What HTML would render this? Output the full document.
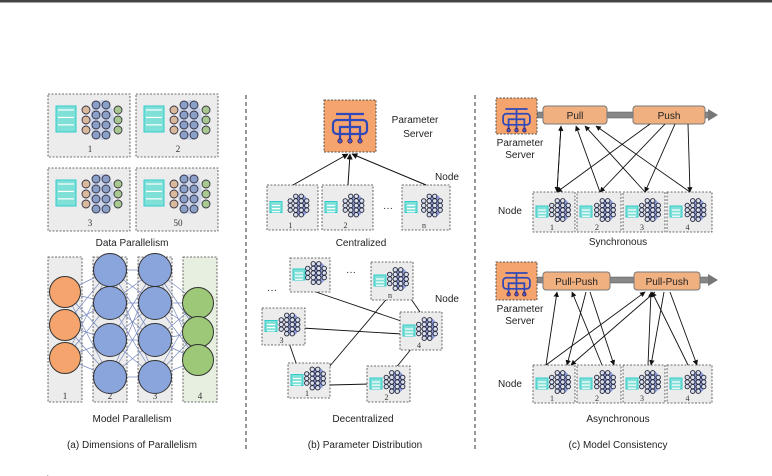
<!DOCTYPE html>
<html><head><meta charset="utf-8"><style>
html,body{margin:0;padding:0;background:#fff;}
svg{display:block;font-family:"Liberation Sans",sans-serif;}
</style></head><body>
<svg id="s" width="772" height="476" viewBox="0 0 772 476" xmlns="http://www.w3.org/2000/svg">
<defs>
<marker id="ar" viewBox="0 0 10 10" refX="9" refY="5" markerWidth="6" markerHeight="6" orient="auto"><path d="M0,0L10,5L0,10z" fill="#111"/></marker>
</defs>
<rect x="0" y="0" width="772" height="2.5" fill="#444"/>
<line x1="246" y1="95" x2="246" y2="450" stroke="#333" stroke-dasharray="4,3"/>
<line x1="475" y1="95" x2="475" y2="450" stroke="#333" stroke-dasharray="4,3"/>
<g id="g"></g>
<g font-size="10" fill="#222" text-anchor="middle">
<text x="132" y="246">Data Parallelism</text>
<text x="132" y="422">Model Parallelism</text>
<text x="132" y="448">(a) Dimensions of Parallelism</text>
<text x="415" y="123">Parameter</text><text x="418" y="137">Server</text>
<text x="447" y="180">Node</text>
<text x="388" y="211">···</text>
<text x="361" y="246">Centralized</text>
<text x="447" y="302">Node</text>
<text x="351" y="275">···</text>
<text x="272" y="293">···</text>
<text x="363" y="422">Decentralized</text>
<text x="365" y="448">(b) Parameter Distribution</text>
<text x="520" y="146">Parameter</text><text x="520" y="158">Server</text>
<text x="510" y="214">Node</text>
<text x="618" y="245">Synchronous</text>
<text x="520" y="312">Parameter</text><text x="520" y="324">Server</text>
<text x="510" y="387">Node</text>
<text x="618" y="422">Asynchronous</text>
<text x="618" y="448">(c) Model Consistency</text>
<text x="20" y="483" text-anchor="start">Overview</text>
</g>
</svg>
<script>
var g=document.getElementById('g'),h='';
function R(x,y,w,hh,f,dash){h+='<rect x="'+x+'" y="'+y+'" width="'+w+'" height="'+hh+'" fill="'+(f||'#ececec')+'" stroke="#444" stroke-width="0.8" '+(dash===false?'':'stroke-dasharray="2,1.5"')+'/>';}
function C(x,y,r,f,s,sw){h+='<circle cx="'+x+'" cy="'+y+'" r="'+r+'" fill="'+f+'" stroke="'+(s||'#333')+'" stroke-width="'+(sw||1)+'"/>';}
function L(a,b,c,d,s,w,m){h+='<line x1="'+a+'" y1="'+b+'" x2="'+c+'" y2="'+d+'" stroke="'+(s||'#111')+'" stroke-width="'+(w||0.9)+'" '+(m?'marker-end="url(#ar)"':'')+'/>';}
function T(x,y,t,fs){h+='<text x="'+x+'" y="'+y+'" font-size="'+(fs||9)+'" text-anchor="middle" fill="#333" font-family="Liberation Serif,serif">'+t+'</text>';}
function doc(x,y,w,hh){h+='<rect x="'+x+'" y="'+y+'" width="'+w+'" height="'+hh+'" fill="#7fe0d8" stroke="#3cc" stroke-width="1"/>';for(var i=0;i<3;i++)L(x+2,y+4+i*hh/3.5,x+w-2,y+4+i*hh/3.5,'#fff',1.2);}
function dp(x,y,lab){R(x,y,82,63);doc(x+8,y+12,20,26);
var cols=[[x+38,[16,26,36]],[x+48,[11,21,31,41]],[x+58,[11,21,31,41]],[x+70,[16,26,36]]];
var fc=['#d9b89c','#8aa0c8','#8aa0c8','#a8c890'];
h+='<ellipse cx="'+(x+54)+'" cy="'+(y+26)+'" rx="12" ry="20" fill="#b8c4e8" opacity="0.6"/>';
for(var c=0;c<4;c++)for(var i=0;i<cols[c][1].length;i++)C(cols[c][0],y+cols[c][1][i],4,fc[c],'#334',0.9);
T(x+42,y+58,lab);}
dp(48,94,'1');dp(136,94,'2');dp(48,168,'3');dp(136,168,'50');
[[48,'1'],[93,'2'],[138,'3'],[183,'4']].forEach(function(c){R(c[0],257,34,145,c[0]==183?'#e6efe0':'#ececec');T(c[0]+17,399,c[1]);});
var O=[292,325,358],B=[270,303,340,377],G=[303,332,360];
O.forEach(function(a){B.forEach(function(b){L(65,a,110,b,'#7a8cc0',0.7);});});
B.forEach(function(a){B.forEach(function(b){L(110,a,155,b,'#7a8cc0',0.7);});});
B.forEach(function(a){G.forEach(function(b){L(155,a,198,b,'#7a8cc0',0.7);});});
O.forEach(function(y){C(65,y,15.5,'#f4a46c','#333',1);});
B.forEach(function(y){C(110,y,16.5,'#8aa4dc','#333',1);});
B.forEach(function(y){C(155,y,16.5,'#8aa4dc','#333',1);});
G.forEach(function(y){C(198,y,15.5,'#9cc878','#333',1);});
function sn(x,y,w,hh,lab){R(x,y,w,hh);doc(x+3,y+hh/2-6,12,11);
var cx=x+w/2+6,cy=y+hh/2-2;
h+='<ellipse cx="'+(cx+3)+'" cy="'+cy+'" rx="7" ry="11" fill="#6a80d8" opacity="0.7"/>';
for(var i=-2;i<=2;i++)for(var j=-1.5;j<=1.5;j++){if(Math.abs(i)==2&&Math.abs(j)==1.5)continue;C(cx+j*5.5,cy+i*4.6,2.2,'#d8e0f0','#223',0.9);}
T(x+w/2-2,y+hh-2,lab,8);}
function ps(x,y,w,hh){h+='<rect x="'+x+'" y="'+y+'" width="'+w+'" height="'+hh+'" fill="#f4a46c" stroke="#555" stroke-dasharray="2,1.5"/>';
var cx=x+w/2,s=w/52;
h+='<g fill="none" stroke="#3048b8" stroke-width="'+(2.2*s)+'">'+
'<line x1="'+(cx-14*s)+'" y1="'+(y+14*s)+'" x2="'+(cx+14*s)+'" y2="'+(y+14*s)+'"/>'+
'<rect x="'+(cx-17*s)+'" y="'+(y+20*s)+'" width="'+(34*s)+'" height="'+(14*s)+'" rx="'+(4*s)+'"/>'+
'<line x1="'+cx+'" y1="'+(y+14*s)+'" x2="'+cx+'" y2="'+(y+40*s)+'"/>'+
'<path d="M'+(cx-10*s)+','+(y+40*s)+'V'+(y+27*s)+'H'+(cx+10*s)+'V'+(y+40*s)+'"/></g>';
[-10,0,10].forEach(function(d){C(cx+d*s,y+41*s,2.2*s,'#5060c0','#304',0.6);});}
ps(324,100,52,52);
sn(267,185,51,45,'1');sn(322,185,51,45,'2');sn(402,185,48,45,'n');
L(293,185,348,154,'#111',1,1);L(348,185,350,154,'#111',1,1);L(426,185,352,154,'#111',1,1);
var D=[[290,258,40,34,''],[371,262,42,38,'n'],[262,308,43,37,'3'],[400,312,42,38,'4'],[288,363,42,35,'1'],[367,366,43,36,'2']];
L(310,290,404,322);L(390,295,324,373);L(302,328,402,334);L(288,340,302,380);L(330,385,370,384);L(412,348,390,375);L(409,296,420,312);
D.forEach(function(d){sn(d[0],d[1],d[2],d[3],d[4]);});
function bar(y){h+='<rect x="537" y="'+(y-3)+'" width="172" height="6" fill="#888" stroke="#555" stroke-width="0.5"/><path d="M708,'+(y-6)+'L718,'+y+'L708,'+(y+6)+'z" fill="#777"/>';}
function pb(x,y,w,t){h+='<rect x="'+x+'" y="'+y+'" width="'+w+'" height="18" rx="3" fill="#f0b080" stroke="#777"/><text x="'+(x+w/2)+'" y="'+(y+13)+'" font-size="10" text-anchor="middle" fill="#222">'+t+'</text>';}
bar(115);ps(496,98,41,36);pb(543,106,64,'Pull');pb(633,106,72,'Push');
var NX=[[533,42],[577,44],[623,42],[667,45]];
NX.forEach(function(n,i){sn(n[0],192,n[1],40,String(i+1));});
L(557,192,561,126,'#111',0.9,1);L(561,126,557,192,'#111',0.9,1);
L(600,192,576,126,'#111',0.9,1);L(645,192,585,126,'#111',0.9,1);L(690,192,596,126,'#111',0.9,1);
L(650,124,557,192,'#111',0.9,1);L(665,124,600,192,'#111',0.9,1);L(675,124,645,192,'#111',0.9,1);L(688,124,690,192,'#111',0.9,1);
bar(280);ps(496,262,41,38);pb(543,272,67,'Pull-Push');pb(634,272,66,'Pull-Push');
NX.forEach(function(n,i){sn(n[0],365,n[1],38,String(i+1));});
L(546,365,557,292,'#111',0.9,1);L(546,365,645,292,'#111',0.9,1);
L(586,292,567,365,'#111',0.9,1);L(655,292,571,365,'#111',0.9,1);
L(602,365,572,292,'#111',0.9,1);L(590,292,614,365,'#111',0.9,1);
L(648,365,651,292,'#111',0.9,1);L(664,292,651,365,'#111',0.9,1);
L(688,365,652,292,'#111',0.9,1);L(670,292,697,365,'#111',0.9,1);
g.innerHTML=h;
</script>
</body></html>
